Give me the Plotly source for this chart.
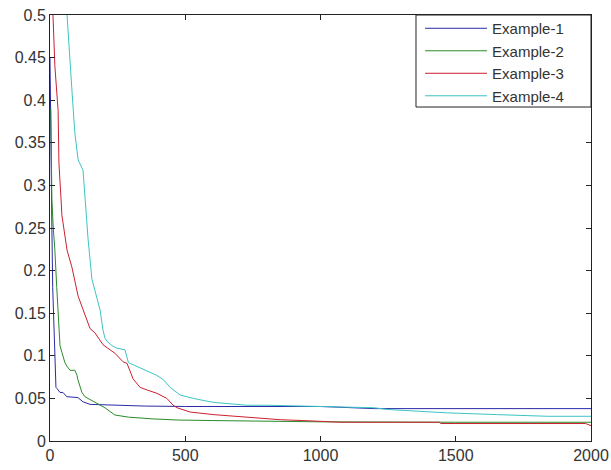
import plotly.graph_objects as go

names = ["Example-1", "Example-2", "Example-3", "Example-4"]
colors = ["#2a2aa8", "#2a8a2a", "#cc2030", "#3cc4c4"]

x1 = [0, 3, 7, 10, 15, 20, 22, 25, 37, 48, 62, 103, 118, 122, 148, 230, 352, 500, 1000, 1200, 2000]
y1 = [0.45, 0.32, 0.25, 0.18, 0.12, 0.08, 0.063, 0.062, 0.057, 0.057, 0.052, 0.051, 0.047, 0.046, 0.043, 0.042, 0.041, 0.0405, 0.0405, 0.038, 0.038]

x2 = [3, 7, 12, 18, 25, 30, 37, 44, 55, 62, 74, 92, 100, 103, 118, 129, 166, 203, 240, 290, 377, 474, 600, 1000, 1500, 2000]
y2 = [0.39, 0.283, 0.25, 0.224, 0.18, 0.154, 0.112, 0.104, 0.092, 0.088, 0.083, 0.083, 0.077, 0.072, 0.057, 0.052, 0.045, 0.039, 0.0305, 0.028, 0.026, 0.0246, 0.024, 0.0225, 0.022, 0.022]

x3 = [11, 18, 30, 33, 41, 44, 63, 81, 104, 122, 148, 166, 196, 222, 240, 270, 285, 307, 333, 358, 395, 432, 455, 470, 518, 603, 728, 851, 973, 1073, 1440, 1445, 1980, 2000]
y3 = [0.5, 0.44, 0.388, 0.326, 0.283, 0.265, 0.224, 0.204, 0.17, 0.154, 0.132, 0.127, 0.113, 0.107, 0.103, 0.093, 0.091, 0.073, 0.063, 0.060, 0.056, 0.050, 0.042, 0.039, 0.034, 0.031, 0.028, 0.025, 0.0235, 0.022, 0.022, 0.0205, 0.0205, 0.018]

x4 = [63, 74, 81, 92, 104, 122, 129, 141, 155, 174, 185, 196, 203, 211, 229, 247, 277, 290, 333, 395, 419, 444, 481, 530, 592, 617, 728, 802, 1000, 1200, 1247, 1350, 1470, 1650, 1840, 2000]
y4 = [0.5, 0.44, 0.412, 0.361, 0.33, 0.318, 0.283, 0.236, 0.19, 0.169, 0.154, 0.130, 0.121, 0.117, 0.112, 0.109, 0.107, 0.092, 0.086, 0.077, 0.072, 0.063, 0.054, 0.050, 0.046, 0.045, 0.042, 0.042, 0.0405, 0.039, 0.037, 0.035, 0.033, 0.031, 0.029, 0.029]

x_ticks = [0, 500, 1000, 1500, 2000]
y_ticks = [0, 0.05, 0.1, 0.15, 0.2, 0.25, 0.3, 0.35, 0.4, 0.45, 0.5]
y_tick_labels = ["0", "0.05", "0.1", "0.15", "0.2", "0.25", "0.3", "0.35", "0.4", "0.45", "0.5"]

fig = go.Figure()
for xs, ys, name, color in zip([x1, x2, x3, x4], [y1, y2, y3, y4], names, colors):
    fig.add_trace(go.Scatter(x=xs, y=ys, mode="lines", name=name,
                             line=dict(color=color, width=1)))

axis_common = dict(showline=True, linecolor="#222222", linewidth=1, mirror="allticks",
                   ticks="inside", ticklen=5, tickcolor="#222222", showgrid=False,
                   zeroline=False, automargin=False,
                   tickfont=dict(family="Liberation Sans, Arial", size=16, color="#333333"))

fig.update_xaxes(range=[0, 2000], tickvals=x_ticks, **axis_common)
fig.update_yaxes(range=[0, 0.5], tickvals=y_ticks, ticktext=y_tick_labels, **axis_common)

# legend frame
fig.add_shape(type="rect", xref="paper", yref="paper", x0=0.6765, x1=1.0, y0=0.784, y1=1.0,
              line=dict(color="#222222", width=1), fillcolor="white", layer="above")

fig.update_layout(
    width=611, height=470,
    margin=dict(l=50, r=20, t=15, b=29),
    plot_bgcolor="white", paper_bgcolor="white",
    legend=dict(x=0.684, y=1.007, xanchor="left", yanchor="top",
                borderwidth=0, bgcolor="rgba(0,0,0,0)", itemwidth=62,
                font=dict(family="Liberation Sans, Arial", size=15, color="#333333")),
)

fig.write_html("out.html", config={"displayModeBar": False},
               post_script="document.body.style.margin='0px';")
